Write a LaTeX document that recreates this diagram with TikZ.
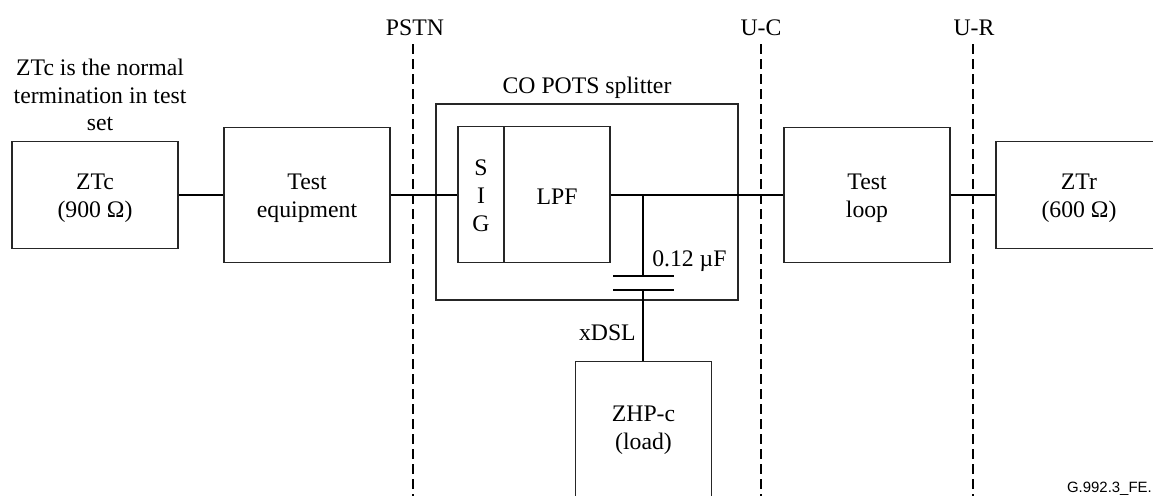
\documentclass[tikz,border=0pt]{standalone}
\usepackage{fontspec}
\setmainfont{Liberation Serif}
\newfontfamily\tagfont{Liberation Sans}
\usetikzlibrary{positioning, calc}

\begin{document}
\begin{tikzpicture}[x=0.75pt, y=-0.75pt,
    font=\fontsize{17.8}{21}\selectfont,
    block/.style={rectangle, draw=black!85, line width=0.8pt, align=center, inner sep=0pt},
    wire/.style={line width=1.3pt, black},
    iface/.style={line width=1.3pt, black, dash pattern=on 7.5pt off 3.75pt},
    tag/.style={inner sep=0pt, align=center},
]
\path[use as bounding box, clip] (0,0) rectangle (1153,496);
% blocks
\node[block, text height=38pt, minimum width=124.5pt, minimum height=80pt] (ztc) at (95,194.7) {ZTc\\(900 Ω)};
\node[block, text height=38pt, minimum width=124.5pt, minimum height=101.5pt] (testeq) at (307,194.7) {Test\\equipment};
\node[block, minimum width=226.5pt, minimum height=147pt] (splitter) at (587,202) {};
\node[block, text height=56pt, minimum width=34.5pt, minimum height=102pt] (sig) at (481,194.7) {S\\I\\G};
\node[block, text height=15pt, minimum width=79.5pt, minimum height=102pt] (lpf) at (557,194.7) {LPF};
\node[block, text height=38pt, minimum width=124.5pt, minimum height=101.5pt] (loop) at (867,194.7) {Test\\loop};
\node[block, text height=38pt, minimum width=124.5pt, minimum height=80pt] (ztr) at (1079,194.7) {ZTr\\(600 Ω)};
\node[block, text height=34pt, minimum width=102.5pt, minimum height=101.5pt] (zhp) at (643.5,429) {ZHP-c\\(load)};
% labels
\node[tag, font=\fontsize{17.8}{20.6}\selectfont] (note) at (100,95) {ZTc is the normal\\termination in test\\set};
\node[tag] (title) at (587,87.5) {CO POTS splitter};
\node[tag] (pstn) at (415,28) {PSTN};
\node[tag] (uc) at (761,28) {U-C};
\node[tag] (ur) at (974,28) {U-R};
\node[tag, anchor=west] (capval) at (652,261) {0.12 µF};
\node[tag, anchor=east] (xdsl) at (636,333) {xDSL};
\node[tag, anchor=base east, font=\fontsize{11.2}{13}\tagfont] (figtag) at (1152,492.5) {G.992.3\_FE.};
% reference points
\coordinate (pstntop) at (413,44);
\coordinate (pstnbot) at (413,496);
\coordinate (uctop) at (761,44);
\coordinate (ucbot) at (761,496);
\coordinate (urtop) at (973,44);
\coordinate (urbot) at (973,496);
\coordinate (tee) at (643,194.7);
\coordinate (platea) at (643,276);
\coordinate (plateb) at (643,290);
\draw[iface] (pstntop)--(pstnbot);
\draw[iface] (uctop)--(ucbot);
\draw[iface] (urtop)--(urbot);
\draw[wire] (ztc)--(testeq);
\draw[wire] (testeq)--(sig);
\draw[wire] (lpf)--(loop);
\draw[wire] (loop)--(ztr);
\draw[wire] (tee)--(platea);
\draw[wire] ($(platea)+(-30,0)$)--($(platea)+(31,0)$);
\draw[wire] ($(plateb)+(-30,0)$)--($(plateb)+(31,0)$);
\draw[wire] (plateb)--(zhp.north -| plateb);
\end{tikzpicture}
\end{document}
